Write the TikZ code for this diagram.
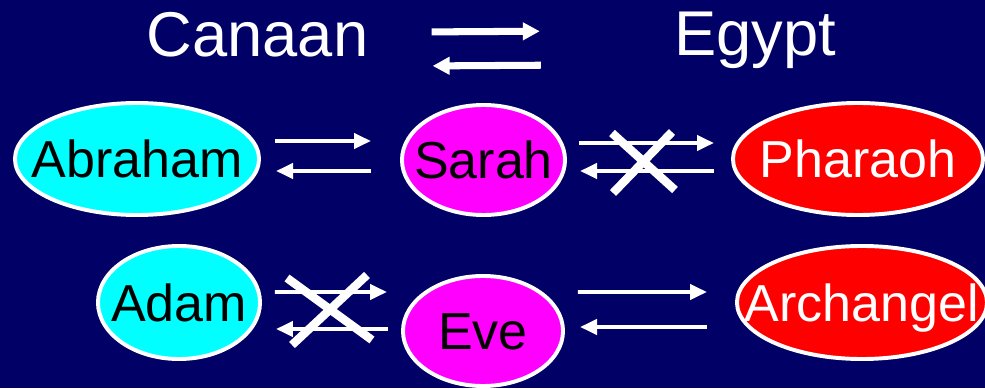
\documentclass[tikz,border=0pt]{standalone}
\usepackage{fontspec}
\setmainfont{Liberation Sans}
\usepackage{xcolor}
\usetikzlibrary{shapes.geometric, arrows.meta, calc}
\definecolor{slideblue}{RGB}{0,0,102}
\definecolor{kincyan}{RGB}{0,255,255}
\definecolor{kinmagenta}{RGB}{255,0,255}
\definecolor{kinred}{RGB}{255,0,0}
\newcommand{\inname}[1]{\makebox[0pt]{#1}}

\begin{document}
\begin{tikzpicture}[
    x=0.025cm, y=0.025cm,
    person/.style={ellipse, draw=white, line width=2.8pt, inner sep=0pt, text height=26.6pt, text depth=0pt, font=\fontsize{37}{40}\selectfont},
    canaanite/.style={person, fill=kincyan, text=black},
    wife/.style={person, fill=kinmagenta, text=black},
    egyptian/.style={person, fill=kinred, text=white},
    place/.style={text=white, inner sep=0pt, anchor=base, text depth=0pt, font=\fontsize{45}{48}\selectfont},
    flow/.style={draw=white, line width=2.8pt, -{Triangle[length=0.425cm, width=0.375cm]}},
    bigflow/.style={draw=white, line width=5pt, -{Triangle[length=0.425cm, width=0.425cm]}},
    barred/.style={draw=white, line width=6pt}
]
\fill[slideblue] (0,0) rectangle (985,388);
\useasboundingbox (0,0) rectangle (985,388);

% places
\node[place] (canaan) at (257.5,331) {Canaan};
\node[place] (egypt) at (755,332) {Egypt};
\draw[bigflow] ($(canaan.east)+(63,3)$) -- ($(egypt.west)+(-134,3)$);
\draw[bigflow] ($(egypt.west)+(-133,-31)$) -- ($(canaan.east)+(64,-31)$);

% people
\node[canaanite, minimum width=6.1cm, minimum height=2.8cm] (abraham) at (137,229) {\inname{Abraham}};
\node[wife, minimum width=4.075cm, minimum height=2.75cm] (sarah) at (483.5,228) {\inname{Sarah}};
\node[egyptian, minimum width=6.25cm, minimum height=2.8cm] (pharaoh) at (858,229) {\inname{Pharaoh}};
\node[canaanite, minimum width=4.05cm, minimum height=2.825cm] (adam) at (179,85.5) {\inname{Adam}};
\node[wife, minimum width=4cm, minimum height=2.75cm] (eve) at (483,57) {\inname{Eve}};
\node[egyptian, minimum width=6.25cm, minimum height=2.825cm] (archangel) at (862,85.5) {\inname{Archangel}};

% upper row
\draw[flow] ($(abraham.east)+(14,18)$) -- ($(sarah.west)+(-29,19)$);
\draw[flow] ($(sarah.west)+(-29,-11)$) -- ($(abraham.east)+(15,-12)$);
\draw[flow] ($(sarah.east)+(12,17)$) -- ($(pharaoh.west)+(-17,16)$);
\draw[flow] ($(pharaoh.west)+(-17,-12)$) -- ($(sarah.east)+(13,-11)$);
\coordinate (veto1) at ($(sarah.east)+(76,-2)$);
\draw[barred] ($(veto1)+(-31,29)$) -- ($(veto1)+(32,-28)$);
\draw[barred] ($(veto1)+(29,30)$) -- ($(veto1)+(-30,-31)$);

% lower row
\draw[flow] ($(adam.east)+(13,10.5)$) -- ($(eve.west)+(-14,39)$);
\draw[flow] ($(eve.west)+(-13,2)$) -- ($(adam.east)+(14,-26.5)$);
\draw[flow] ($(eve.east)+(13,39)$) -- ($(archangel.west)+(-28,10.5)$);
\draw[flow] ($(archangel.west)+(-28,-24.5)$) -- ($(eve.east)+(15,4)$);
\coordinate (veto2) at ($(adam.east)+(68,-6.5)$);
\draw[barred] ($(veto2)+(-43,31)$) -- ($(veto2)+(42,-31)$);
\draw[barred] ($(veto2)+(37,34)$) -- ($(veto2)+(-38,-36)$);
\end{tikzpicture}
\end{document}
